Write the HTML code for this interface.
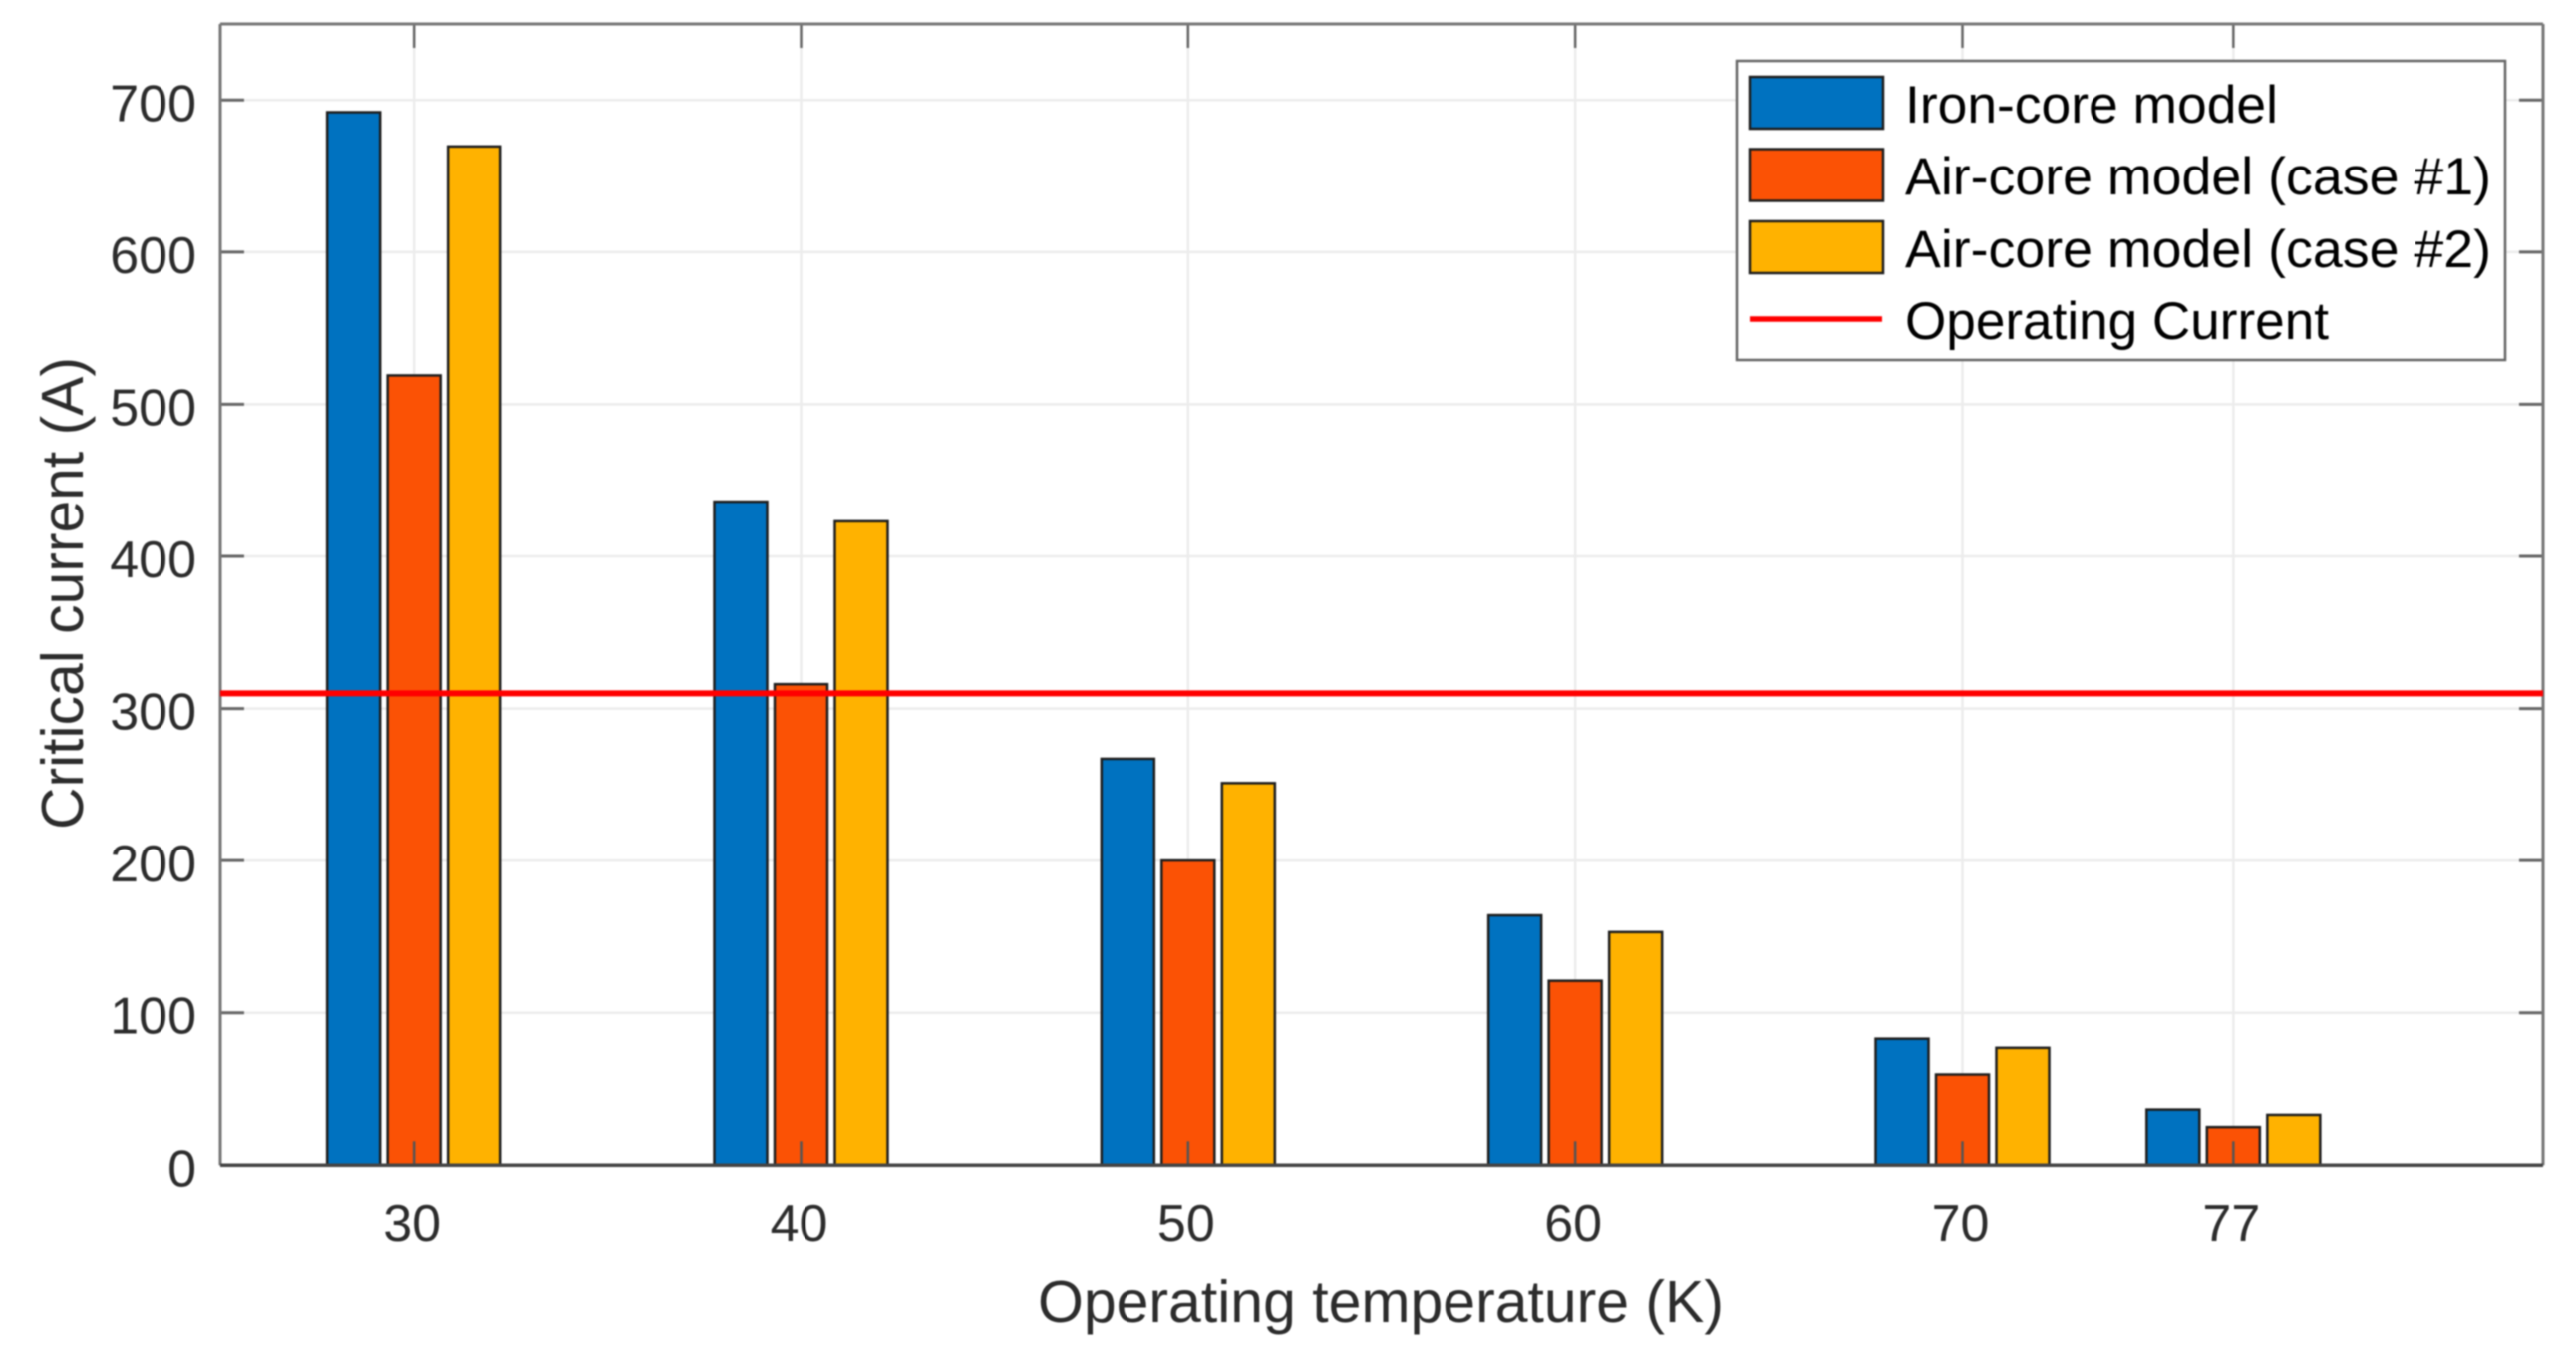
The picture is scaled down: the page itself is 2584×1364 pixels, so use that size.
<!DOCTYPE html>
<html lang="en">
<head>
<meta charset="utf-8">
<title>Critical current vs operating temperature</title>
<style>
  html, body { margin: 0; padding: 0; background: #fff; }
  body { width: 2584px; height: 1364px; overflow: hidden; }
  svg { display: block; filter: blur(0.9px); font-family: "Liberation Sans", Arial, sans-serif; }
  .tick-label { font-size: 52px; fill: #2c2c2c; }
  .axis-title { font-size: 59px; fill: #2c2c2c; }
  .legend-label { font-size: 53px; fill: #000; }
</style>
</head>
<body>
<svg id="chart" xmlns="http://www.w3.org/2000/svg" width="2584" height="1364" viewBox="0 0 2584 1364">
  <rect x="0" y="0" width="2584" height="1364" fill="#ffffff"/>
  <g id="grid"></g>
  <g id="bars"></g>
  <g id="axes"></g>
  <g id="reference"></g>
  <g id="labels"></g>

  <text class="axis-title" x="1385" y="1326" text-anchor="middle" textLength="688" lengthAdjust="spacingAndGlyphs">Operating temperature (K)</text>
  <text class="axis-title" x="0" y="0" text-anchor="middle" textLength="474" lengthAdjust="spacingAndGlyphs" transform="translate(83 595) rotate(-90)">Critical current (A)</text>

  <g>
    <rect x="1742" y="61" width="771" height="300" fill="#ffffff" stroke="#666666" stroke-width="2.5"/>
    <rect x="1755" y="77" width="134" height="52" fill="#0072c0" stroke="#1e1e1e" stroke-width="2.5"/>
    <rect x="1755" y="149.500" width="134" height="52" fill="#fb5205" stroke="#1e1e1e" stroke-width="2.5"/>
    <rect x="1755" y="222" width="134" height="52" fill="#ffb200" stroke="#1e1e1e" stroke-width="2.5"/>
    <line x1="1755" y1="320" x2="1888" y2="320" stroke="#ff0000" stroke-width="5.5"/>
    <text class="legend-label" x="1911" y="123" textLength="374" lengthAdjust="spacingAndGlyphs">Iron-core model</text>
    <text class="legend-label" x="1911" y="195" textLength="588" lengthAdjust="spacingAndGlyphs">Air-core model (case #1)</text>
    <text class="legend-label" x="1911" y="268" textLength="588" lengthAdjust="spacingAndGlyphs">Air-core model (case #2)</text>
    <text class="legend-label" x="1911" y="340" textLength="425" lengthAdjust="spacingAndGlyphs">Operating Current</text>
  </g>
</svg>

<script>
const temperatures = [30, 40, 50, 60, 70, 77];
const ironCore = [692, 436, 267, 164, 83, 36.5];
const airCoreCase1 = [519, 316, 200, 121, 59.5, 25];
const airCoreCase2 = [669.5, 423, 251, 153, 77, 33];
const operatingCurrent = 310;
const xTickLabels = ['30', '40', '50', '60', '70', '77'];
const yTicks = [0, 100, 200, 300, 400, 500, 600, 700];
const yTickLabels = ['0', '100', '200', '300', '400', '500', '600', '700'];
const seriesNames = ['iron-core', 'air-core-case-1', 'air-core-case-2'];
const seriesColors = ['#0072c0', '#fb5205', '#ffb200'];

const plotLeft = 221, plotRight = 2551, plotTop = 24, plotBottom = 1168.3;
const xMin = 25, xMax = 85, yMin = 0, yMax = 750;
const barOffset = 1.558, barWidth = 1.365;
const NS = 'http://www.w3.org/2000/svg';

function xScale(t) { return plotLeft + (t - xMin) / (xMax - xMin) * (plotRight - plotLeft); }
function yScale(v) { return plotBottom - (v - yMin) / (yMax - yMin) * (plotBottom - plotTop); }
function make(tag, parent, attrs) {
  const el = document.createElementNS(NS, tag);
  for (const k in attrs) el.setAttribute(k, attrs[k]);
  parent.appendChild(el);
  return el;
}

const gridLayer = document.getElementById('grid');
const barLayer = document.getElementById('bars');
const axesLayer = document.getElementById('axes');
const refLayer = document.getElementById('reference');
const labelLayer = document.getElementById('labels');

temperatures.forEach(function (t, i) {
  const x = xScale(t);
  const vg = make('line', gridLayer, { x1: x, x2: x, y1: plotTop, y2: plotBottom, stroke: '#ececec', 'stroke-width': 2.5 });
  
  

  const t1 = make('line', axesLayer, { x1: x, x2: x, y1: plotTop, y2: plotTop + 24, stroke: '#666666', 'stroke-width': 2.5 });
  
  
  const t2 = make('line', axesLayer, { x1: x, x2: x, y1: plotBottom, y2: plotBottom - 24, stroke: '#555555', 'stroke-width': 2.5 });
  
  

  const lbl = make('text', labelLayer, { x: x - 2, y: 1245, 'text-anchor': 'middle', class: 'tick-label' });
  
  
  lbl.textContent = xTickLabels[i];
});

yTicks.forEach(function (v, i) {
  const y = yScale(v);
  if (v > 0) {
    const hg = make('line', gridLayer, { x1: plotLeft, x2: plotRight, y1: y, y2: y, stroke: '#ececec', 'stroke-width': 2.5 });
    
    
  }
  const t1 = make('line', axesLayer, { x1: plotLeft, x2: plotLeft + 24, y1: y, y2: y, stroke: '#666666', 'stroke-width': 3 });
  
  
  const t2 = make('line', axesLayer, { x1: plotRight, x2: plotRight - 24, y1: y, y2: y, stroke: '#666666', 'stroke-width': 3 });
  
  

  const lbl = make('text', labelLayer, { x: 197, y: y + 21, 'text-anchor': 'end', class: 'tick-label' });
  
  
  lbl.textContent = yTickLabels[i];
});

[ironCore, airCoreCase1, airCoreCase2].forEach(function (series, s) {
  series.forEach(function (v, i) {
    const cx = xScale(temperatures[i] + (s - 1) * barOffset);
    const w = xScale(barWidth) - xScale(0);
    const bar = make('rect', barLayer, {
      x: cx - w / 2, y: yScale(v), width: w, height: yScale(0) - yScale(v),
      fill: seriesColors[s], stroke: '#1e1e1e', 'stroke-width': 2.5
    });
    
    
  });
});

const frameTop = make('line', axesLayer, { x1: plotLeft, x2: plotRight, y1: plotTop, y2: plotTop, stroke: '#777777', 'stroke-width': 3 });


const frameRight = make('line', axesLayer, { x1: plotRight, x2: plotRight, y1: plotTop, y2: plotBottom, stroke: '#777777', 'stroke-width': 3 });


const frameLeft = make('line', axesLayer, { x1: plotLeft, x2: plotLeft, y1: plotTop, y2: plotBottom, stroke: '#777777', 'stroke-width': 3 });


const frameBottom = make('line', axesLayer, { x1: plotLeft, x2: plotRight, y1: plotBottom, y2: plotBottom, stroke: '#444444', 'stroke-width': 3.5 });



const refLine = make('line', refLayer, { x1: plotLeft, x2: plotRight, y1: yScale(operatingCurrent), y2: yScale(operatingCurrent), stroke: '#ff0000', 'stroke-width': 6 });


</script>
</body>
</html>
